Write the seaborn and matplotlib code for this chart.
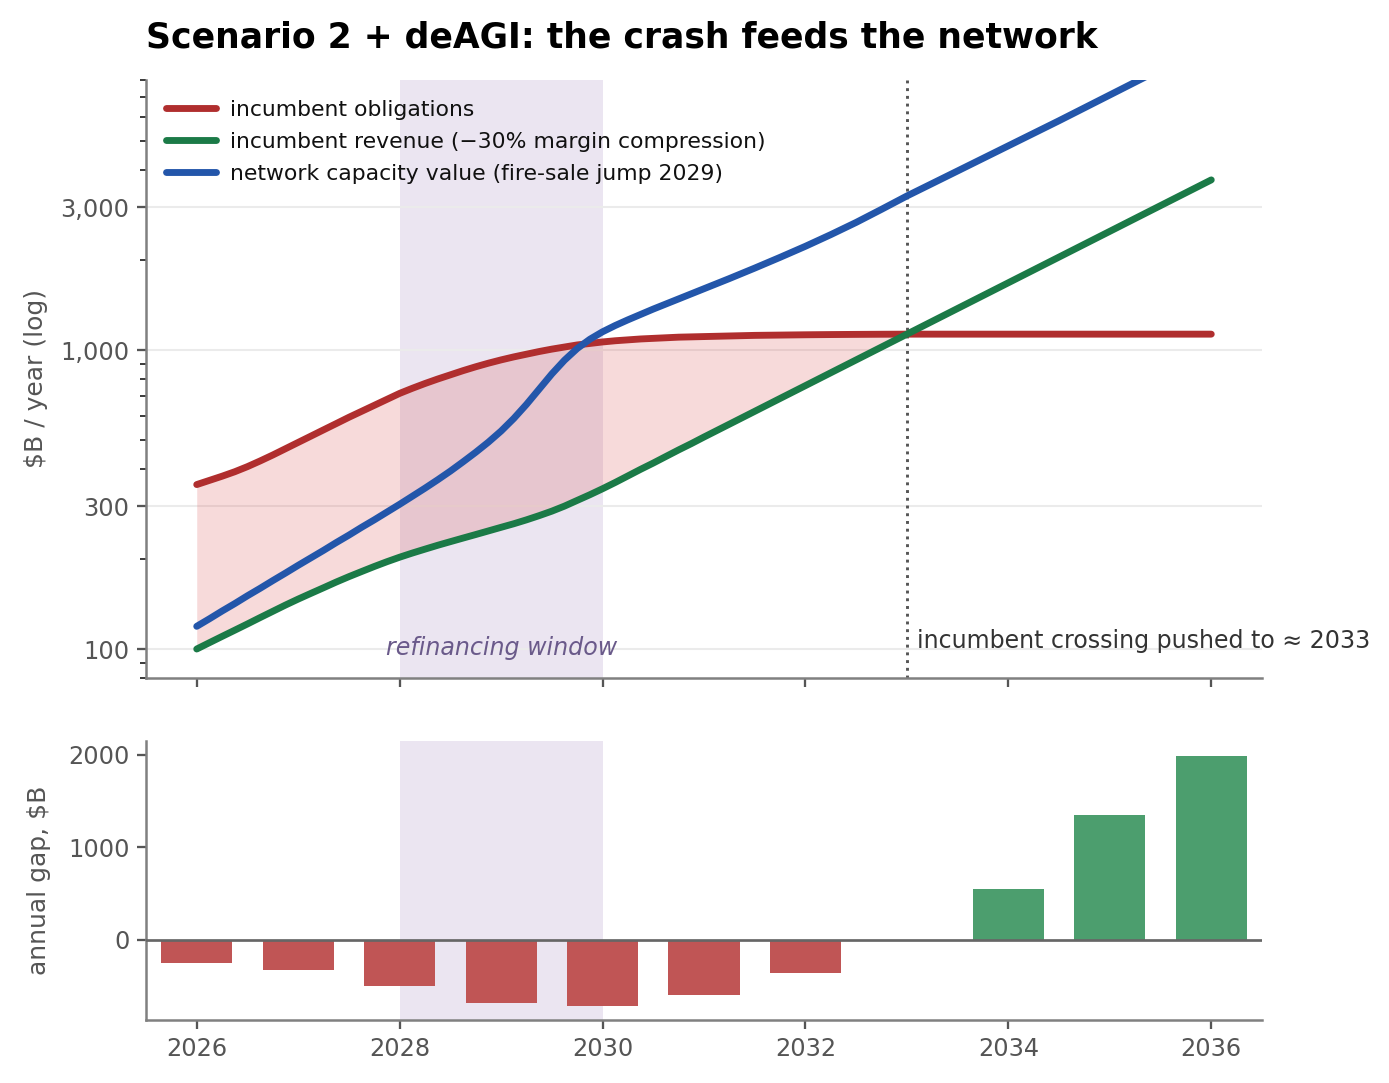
import numpy as np
import pandas as pd
import matplotlib
matplotlib.use("Agg")
import matplotlib.pyplot as plt
import matplotlib.ticker as mticker
import seaborn as sns

# ---------------- data ----------------
years = [2026.000, 2026.125, 2026.250, 2026.375, 2026.500, 2026.625, 2026.750, 2026.875,
         2027.000, 2027.125, 2027.250, 2027.375, 2027.500, 2027.625, 2027.750, 2027.875,
         2028.000, 2028.125, 2028.250, 2028.375, 2028.500, 2028.625, 2028.750, 2028.875,
         2029.000, 2029.125, 2029.250, 2029.375, 2029.500, 2029.625, 2029.750, 2029.875,
         2030.000, 2030.125, 2030.250, 2030.375, 2030.500, 2030.625, 2030.750, 2030.875,
         2031.000, 2031.25, 2031.50, 2031.75, 2032.00, 2032.25, 2032.50, 2032.75,
         2033.00, 2033.25, 2033.50, 2033.75, 2034.00, 2034.25, 2034.50, 2034.75,
         2035.00, 2035.25, 2035.50, 2035.75, 2036.00]

obligations = [354.8, 366.4, 378.4, 391.7, 407.4, 425.6, 445.6, 467.7,
               490.9, 515.2, 540.8, 567.5, 595.7, 623.7, 653.1, 683.9,
               716.1, 744.7, 772.7, 799.8, 826.0, 853.1, 879.0, 903.6,
               926.8, 948.4, 968.3, 988.5, 1006.9, 1023.3, 1039.9, 1051.9,
               1064.1, 1074.0, 1081.4, 1088.9, 1094.0, 1099.0, 1104.1, 1106.6,
               1109.2, 1114.3, 1119.4, 1122.0, 1124.6, 1126.5, 1128.0, 1129.2,
               1130.0, 1130.0, 1130.0, 1130.0, 1130.0, 1130.0, 1130.0, 1130.0,
               1130.0, 1130.0, 1130.0, 1130.0, 1130.0]

revenue = [100.0, 105.0, 110.2, 115.6, 121.3, 127.4, 133.7, 140.3,
           146.9, 153.5, 160.3, 167.5, 174.6, 181.6, 188.8, 195.9,
           202.8, 209.4, 215.8, 222.3, 228.6, 235.0, 241.5, 248.3,
           255.3, 262.4, 270.4, 279.3, 289.1, 300.6, 314.1, 328.1,
           343.6, 360.6, 379.3, 399.0, 418.8, 440.6, 463.4, 486.4,
           511.7, 564.9, 623.7, 688.7, 760.3, 839.5, 926.8, 1023.3,
           1129.8, 1247.4, 1377.2, 1520.5, 1678.8, 1853.5, 2046.4, 2259.4,
           2494.5, 2754.2, 3040.9, 3357.4, 3706.8]

network = [119.1, 126.2, 134.0, 141.9, 150.7, 159.6, 169.4, 179.5,
           190.5, 201.8, 213.8, 227.0, 240.4, 255.3, 270.4, 287.1,
           304.8, 324.3, 345.1, 368.1, 393.6, 422.7, 455.0, 492.0,
           535.8, 590.2, 657.7, 739.6, 831.8, 924.7, 1011.6, 1086.4,
           1150.8, 1207.8, 1261.8, 1315.2, 1370.9, 1425.6, 1482.5, 1541.7,
           1603.3, 1733.8, 1879.3, 2041.7, 2223.3, 2432.2, 2672.0, 2955.0,
           3275.0, 3606.5, 3971.9, 4375.2, 4819.4, 5308.8, 5847.9, 6456.5,
           7128.5, 7870.5, 8689.6, 9594.0, 10592.5]

bar_years = [2026, 2027, 2028, 2029, 2030, 2031, 2032, 2033, 2034, 2035, 2036]
annual_gap = [-250, -330, -500, -686, -714, -596, -361, 0, 547, 1350, 1993]

series_labels = ["incumbent obligations",
                 "incumbent revenue (\u221230% margin compression)",
                 "network capacity value (fire-sale jump 2029)"]

title = "Scenario 2 + deAGI: the crash feeds the network"
window = (2028, 2030)
crossing_year = 2033

# ---------------- style ----------------
sns.set_theme(style="ticks", context="notebook")
plt.rcParams["font.family"] = ["DejaVu Sans"]

RED = "#b02e2e"
GREEN = "#1b7a47"
BLUE = "#2356aa"
BAR_RED = "#c05555"
BAR_GREEN = "#4c9e6e"
SPAN = "#ebe5f1"
SPINE = "#808080"
TICKC = "#555555"

W, H = 1389, 1083
fig = plt.figure(figsize=(W / 150, H / 150), dpi=150)


def rect(l, t, r, b):
    return [l / W, 1 - b / H, (r - l) / W, (b - t) / H]


ax = fig.add_axes(rect(146, 80, 1262, 678))
axb = fig.add_axes(rect(146, 741, 1262, 1020), sharex=ax)

lines_df = pd.DataFrame({
    "year": years * 3,
    "value": obligations + revenue + network,
    "series": [series_labels[0]] * len(years) + [series_labels[1]] * len(years)
              + [series_labels[2]] * len(years),
})

ax.set_yscale("log")
ax.axvspan(*window, color=SPAN, zorder=0, lw=0)
ob = np.array(obligations, float)
rv = np.array(revenue, float)
ax.fill_between(years, ob, rv, where=ob >= rv, interpolate=True,
                color="#d84a4a", alpha=0.2, lw=0, zorder=1)
sns.lineplot(data=lines_df, x="year", y="value", hue="series",
             palette=[RED, GREEN, BLUE], linewidth=3.3, ax=ax, zorder=3)
ax.axvline(crossing_year, color="#555555", ls=":", lw=1.4, zorder=2)

ax.set_xlim(2025.5, 2036.5)
ax.set_ylim(80, 8000)
ax.yaxis.set_major_locator(mticker.FixedLocator([100, 300, 1000, 3000]))
ax.yaxis.set_major_formatter(mticker.FuncFormatter(lambda v, p: f"{v:,.0f}"))
ax.yaxis.set_minor_locator(mticker.LogLocator(base=10, subs=np.arange(2, 10)))
ax.yaxis.set_minor_formatter(mticker.NullFormatter())
ax.grid(axis="y", which="major", color="#ebebeb", lw=1.0, zorder=0)
ax.set_axisbelow(True)
ax.set_xlabel("")
ax.set_ylabel("\\$B / year (log)", color=TICKC, fontsize=12, labelpad=6)
ax.tick_params(labelbottom=False)

leg = ax.legend(loc="upper left", frameon=False, fontsize=10.5,
                handlelength=2.3, handletextpad=0.65, labelspacing=0.55)
for t in leg.get_texts():
    t.set_color("#111111")

ax.text(sum(window) / 2, 101, "refinancing window", ha="center", va="center",
        style="italic", color="#6a5a8a", fontsize=11.4)
ax.text(crossing_year + 0.1, 106, "incumbent crossing pushed to \u2248 2033",
        ha="left", va="center", color="#333333", fontsize=11.4, clip_on=False)

# ---------------- bottom bars ----------------
bar_df = pd.DataFrame({
    "year": bar_years,
    "gap": annual_gap,
    "sign": ["neg" if g < 0 else "pos" for g in annual_gap],
})
axb.axvspan(*window, color=SPAN, zorder=0, lw=0)
sns.barplot(data=bar_df, x="year", y="gap", hue="sign",
            palette={"neg": BAR_RED, "pos": BAR_GREEN}, native_scale=True,
            width=0.7, errorbar=None, saturation=1, legend=False, dodge=False,
            linewidth=0, ax=axb, zorder=2)
axb.axhline(0, color="#666666", lw=1.3, zorder=3)
axb.set_ylim(-865, 2150)
axb.set_yticks([0, 1000, 2000])
axb.set_xticks([2026, 2028, 2030, 2032, 2034, 2036])
axb.xaxis.set_major_formatter(mticker.FuncFormatter(lambda v, p: f"{v:.0f}"))
axb.set_xlim(2025.5, 2036.5)
axb.set_xlabel("")
axb.set_ylabel("annual gap, \\$B", color=TICKC, fontsize=12, labelpad=8)

for a in (ax, axb):
    sns.despine(ax=a)
    for s in ("left", "bottom"):
        a.spines[s].set_color(SPINE)
        a.spines[s].set_linewidth(1.2)
    a.tick_params(axis="both", which="major", colors=TICKC, labelsize=11.5,
                  length=4.5, width=1.1)
    a.tick_params(axis="both", which="minor", colors="#333333", length=3, width=0.9)

fig.text(146 / W, 1 - 38 / H, title, ha="left", va="center",
         fontsize=16.6, fontweight="bold", color="black")

fig.savefig("out.png", dpi=150)
